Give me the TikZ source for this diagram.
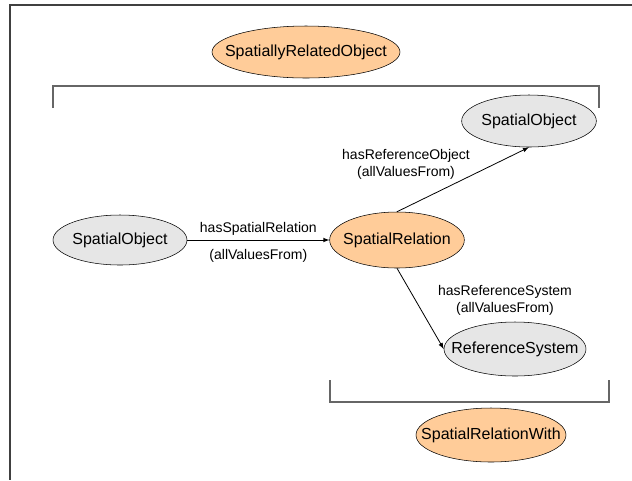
\documentclass[tikz,border=0pt]{standalone}
\usepackage{fontspec}
\setmainfont{Liberation Sans}
\usetikzlibrary{arrows, shapes.geometric}
\definecolor{clsorange}{HTML}{FFCC99}
\definecolor{objgrey}{HTML}{E6E6E6}
\definecolor{framegrey}{HTML}{404040}
% zero-width text, so the ellipse size comes from minimum width/height
\newcommand{\ename}[1]{\makebox[0pt]{#1}}
\tikzset{
	cls/.style = {ellipse, inner sep = 0pt, draw = black, fill = clsorange, font = \fontsize{12}{14}\selectfont},
	obj/.style = {ellipse, inner sep = 0pt, draw = black, fill = objgrey, font = \fontsize{12}{14}\selectfont},
	lbl/.style = {align = center, inner sep = 0pt, font = \fontsize{10.5}{12.7}\selectfont},
	arrow/.style = {->, > = latex, draw = black, line width = 0.6pt},
	bracket/.style = {draw = framegrey!80, line width = 0.8pt},
	frame/.style = {draw = framegrey, line width = 1.1pt}
}
\begin{document}
\begin{tikzpicture}[x = 0.75pt, y = -0.75pt]
	\useasboundingbox (0,0) rectangle (632,480);
	
	%% frame and brackets
	\draw [frame] (632,5) -| (10,480);
	\draw [bracket] (53,108) |- (599,86) -- (599,108);
	\draw [bracket] (330,380) |- (609,402) -- (609,380);
	
	%% nodes
	\node (relobj) [cls, minimum width = 141pt, minimum height = 39pt] at (306,52) {\ename{SpatiallyRelatedObject}};
	\node (spatobj) [obj, minimum width = 100.5pt, minimum height = 37.5pt] at (120,240) {\ename{SpatialObject}};
	\node (spatrel) [cls, minimum width = 101pt, minimum height = 42pt] at (397,240) {\ename{SpatialRelation}};
	\node (refobj) [obj, minimum width = 101pt, minimum height = 39pt] at (529,121) {\ename{SpatialObject}};
	\node (refsys) [obj, minimum width = 106.5pt, minimum height = 40.5pt] at (515,349) {\ename{ReferenceSystem}};
	\node (relwith) [cls, minimum width = 112.5pt, minimum height = 40.5pt] at (491,435) {\ename{SpatialRelationWith}};
	
	%% arrows
	\draw [arrow] (spatobj) -- node (lblrel) [lbl, above = 3.3pt] {hasSpatialRelation}
		node (lblrelall) [lbl, below = 7pt] {(allValuesFrom)} (spatrel);
	\draw [arrow] (spatrel.north) -- (refobj.south);
	\draw [arrow] (spatrel.south) -- (refsys.west);
	
	%% labels
	\node (lblobj) [lbl] at (406,164) {hasReferenceObject\\(allValuesFrom)};
	\node (lblsys) [lbl] at (505,300) {hasReferenceSystem\\(allValuesFrom)};
\end{tikzpicture}
\end{document}
